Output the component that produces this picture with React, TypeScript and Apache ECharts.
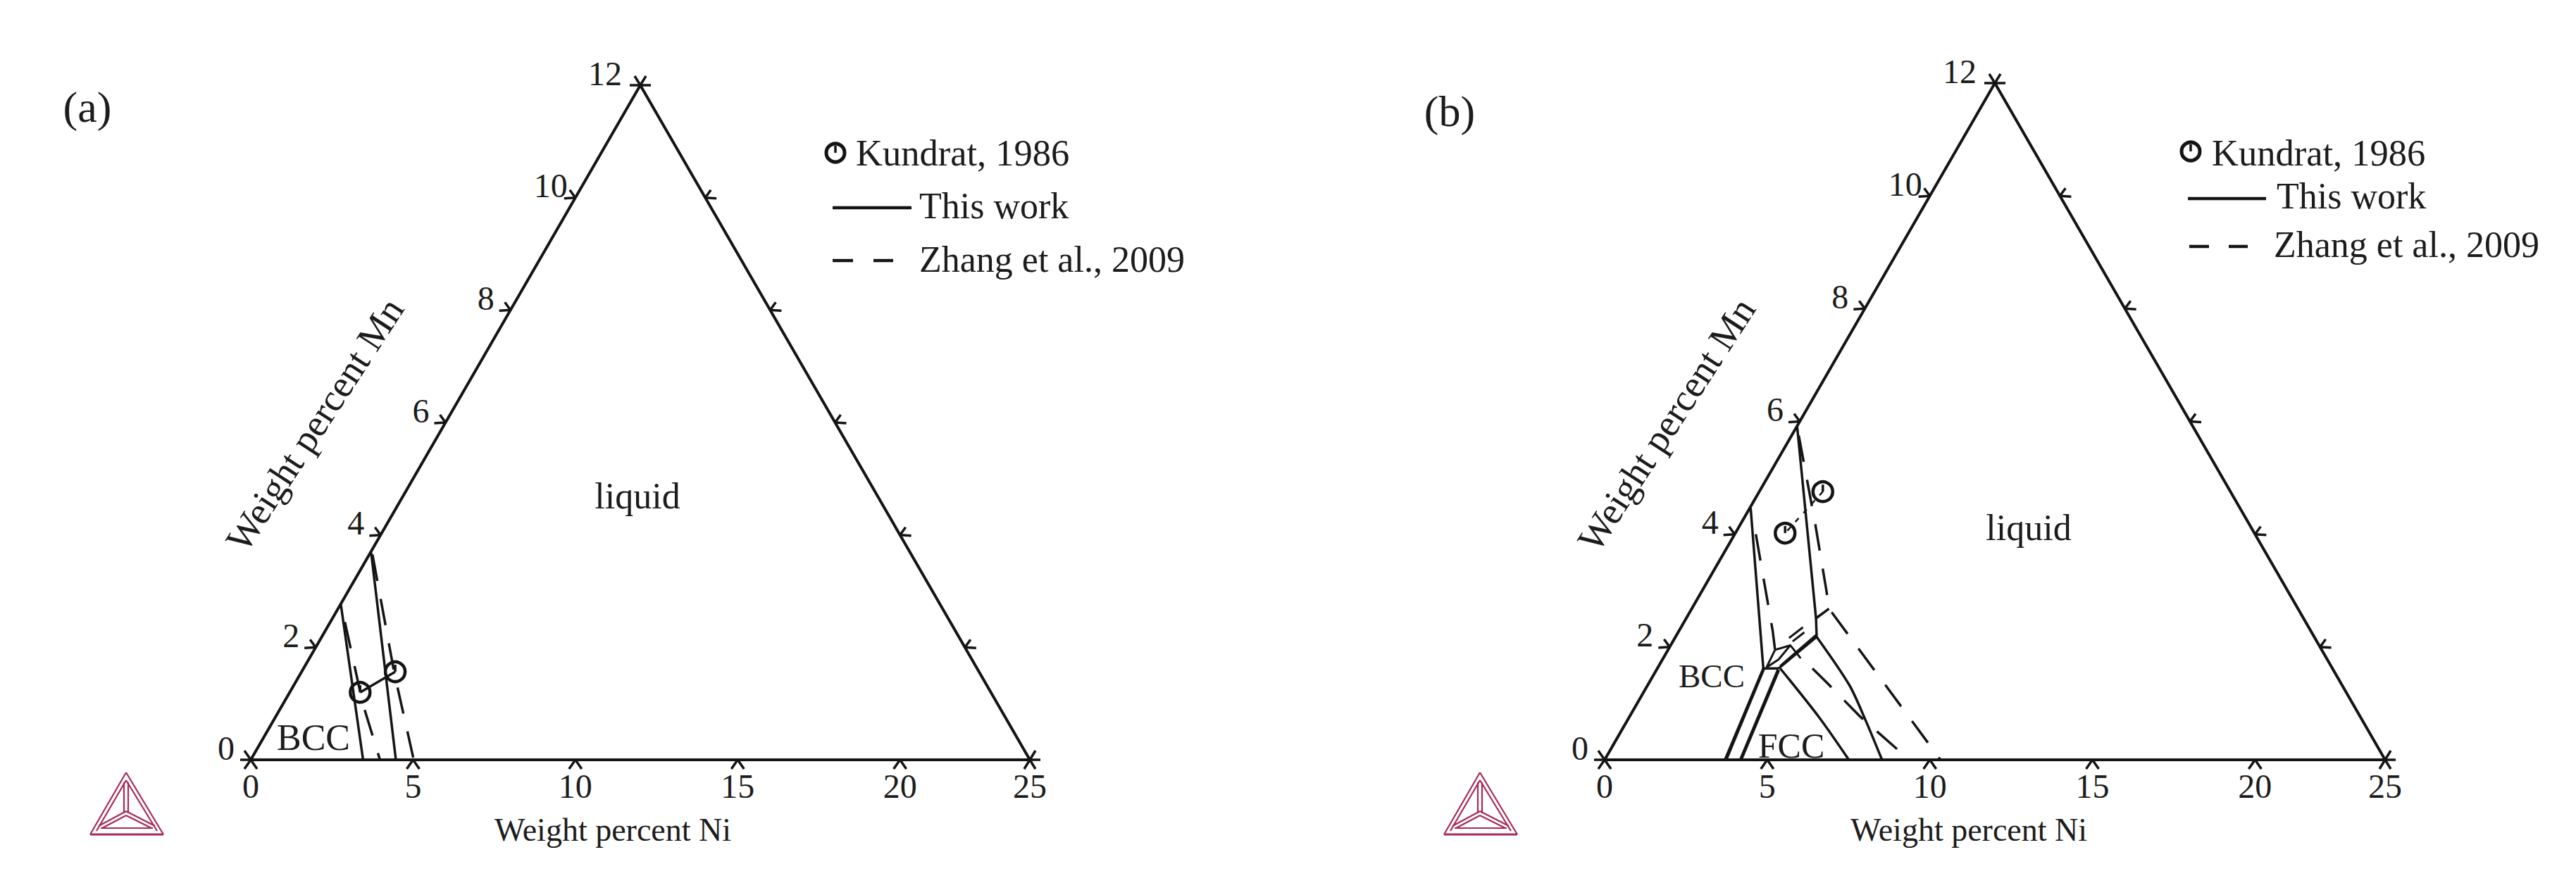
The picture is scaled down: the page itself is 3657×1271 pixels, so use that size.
import React, { useEffect, useRef } from "react";
import * as echarts from "echarts";

// Plot coordinates: x runs in Ni-axis units along the base, y in Mn units (height in the triangle).
const niTickPositions = [0, 5, 10, 15, 20, 24];
const niTickLabels = ["0", "5", "10", "15", "20", "25"];
const mnTicks = [0, 2, 4, 6, 8, 10, 12];
const triangleEdge = [[0, 0], [12, 12], [24, 0], [0, 0]];

const panelASolid = [
  [[2.77, 2.785], [3.46, 0]],
  [[3.71, 3.68], [4.47, 0]],
];
const panelADashed = [
  [[2.9, 2.45], [3.45, 1.0], [3.98, 0]],
  [[3.75, 3.65], [4.42, 1.55], [5.02, 0]],
];
const panelAKundrat = [[3.37, 1.2], [4.45, 1.566]];

const panelBSolid = [
  [[4.49, 4.465], [4.88, 1.62], [5.35, 1.62]],
  [[5.92, 5.91], [6.5, 2.51], [6.52, 2.18], [5.35, 1.62]],
  [[4.88, 1.62], [3.7, 0]],
  [[4.92, 1.64], [3.74, 0]],
  [[5.36, 1.59], [4.2, 0]],
  [[5.33, 1.6], [4.17, 0]],
  [[6.5, 2.51], [6.9, 2.68]],
  [[6.52, 2.22], [5.4, 1.66]],
];
const panelBSolidCurved = [
  [[5.4, 1.62], [6.6, 0.75], [7.51, 0]],
  [[6.52, 2.18], [7.52, 1.33], [8.01, 0.72], [8.53, 0]],
];
const panelBDashed = [
  [[5.97, 5.75], [6.48, 4.17], [6.82, 3.0], [6.9, 2.68], [10.33, 0]],
  [[4.65, 4.0], [5.17, 2.28], [5.24, 1.95]],
  [[6.39, 1.62], [6.83, 1.37], [7.85, 0.77], [9.09, 0.14], [9.4, 0]],
];
const panelBInner = [
  [[5.24, 1.95], [5.71, 2.03], [6.03, 1.8]],
  [[5.24, 1.95], [4.98, 1.64], [5.35, 1.78], [5.71, 2.03]],
  [[5.67, 2.16], [6.1, 2.35]],
  [[5.78, 2.1], [6.14, 2.26]],
];
const panelBKundrat = [[6.71, 4.755], [5.55, 4.02]];

const legendKundrat = "Kundrat, 1986";
const legendThisWork = "This work";
const legendZhang = "Zhang et al., 2009";
const niAxisTitle = "Weight percent Ni";
const mnAxisTitle = "Weight percent Mn";

const INK = "#141414";
const TEXT = "#1c1c1c";
const FONT = '"Liberation Serif", "Times New Roman", serif';
const LOGO = "#a82a55";

const STROKES: Record<string, number[][]> = {
  bottom: [[-9, 13], [9, 13]],
  left: [[-16, 1], [-8, -11]],
  right: [[16, 1], [8, -11]],
  origin: [[-15, 0], [-9, 13], [9, 13], [-9, -13]],
  apex: [[-15, 0], [15, 0], [-8, -13], [8, -13]],
  corner: [[15, 0], [8, -13], [-8, 13], [8, 13]],
};

function tickSeries(i: number, kind: string, data: number[][]) {
  return {
    type: "custom",
    xAxisIndex: i,
    yAxisIndex: i,
    silent: true,
    clip: false,
    data,
    encode: { x: 0, y: 1 },
    renderItem: (_p: any, api: any) => {
      const c = api.coord([api.value(0), api.value(1)]);
      return {
        type: "group",
        children: STROKES[kind].map((s) => ({
          type: "line",
          shape: { x1: c[0], y1: c[1], x2: c[0] + s[0], y2: c[1] + s[1] },
          style: { stroke: INK, lineWidth: 3.5, fill: null },
        })),
      };
    },
  };
}

function mnLabelSeries(i: number) {
  return {
    type: "custom",
    xAxisIndex: i,
    yAxisIndex: i,
    silent: true,
    clip: false,
    data: mnTicks.map((m) => [m, m]),
    encode: { x: 0, y: 1 },
    renderItem: (_p: any, api: any) => {
      const m = api.value(1);
      const c = api.coord([api.value(0), m]);
      return {
        type: "text",
        x: c[0] + (m === 12 ? -50 : -35),
        y: c[1] - 17,
        style: {
          text: String(m),
          fill: TEXT,
          fontSize: 48,
          fontFamily: FONT,
          align: "center",
          verticalAlign: "middle",
        },
      };
    },
  };
}

function kundratSeries(i: number, data: number[][]) {
  return {
    name: legendKundrat,
    type: "custom",
    xAxisIndex: i,
    yAxisIndex: i,
    silent: true,
    data,
    encode: { x: 0, y: 1 },
    z: 5,
    renderItem: (_p: any, api: any) => {
      const c = api.coord([api.value(0), api.value(1)]);
      return {
        type: "group",
        children: [
          {
            type: "circle",
            shape: { cx: c[0], cy: c[1], r: 14 },
            style: { stroke: INK, lineWidth: 4.5, fill: "none" },
          },
          {
            type: "line",
            shape: { x1: c[0], y1: c[1], x2: c[0], y2: c[1] - 10 },
            style: { stroke: INK, lineWidth: 3.5, fill: null },
          },
        ],
      };
    },
  };
}

function lineSeries(i: number, name: string, data: number[][], width: number, type: any, smooth: any = false) {
  return {
    name,
    type: "line",
    xAxisIndex: i,
    yAxisIndex: i,
    data,
    silent: true,
    symbol: "none",
    clip: false,
    smooth,
    lineStyle: { color: INK, width, type, cap: "butt" },
  };
}

function panelSeries(
  i: number,
  solid: number[][][],
  curved: number[][][],
  dashed: number[][][],
  inner: number[][][],
  kundrat: number[][],
  connector: any,
  connectorWidth: number
) {
  const rightEdge = mnTicks.filter((m) => m > 0 && m < 12).map((m) => [24 - m, m]);
  const leftEdge = mnTicks.filter((m) => m > 0 && m < 12).map((m) => [m, m]);
  const base = niTickPositions.filter((x) => x > 0 && x < 24).map((x) => [x, 0]);
  return [
    lineSeries(i, "triangle", triangleEdge, 4, "solid"),
    ...solid.map((d) => lineSeries(i, legendThisWork, d, 3.5, "solid")),
    ...curved.map((d) => lineSeries(i, legendThisWork, d, 3.5, "solid", 0.3)),
    ...dashed.map((d) => lineSeries(i, legendZhang, d, 3.5, [38, 26])),
    ...inner.map((d) => lineSeries(i, legendZhang, d, 3, "solid")),
    lineSeries(i, legendKundrat, kundrat, connectorWidth, connector),
    kundratSeries(i, kundrat),
    tickSeries(i, "bottom", base),
    tickSeries(i, "left", leftEdge),
    tickSeries(i, "right", rightEdge),
    tickSeries(i, "origin", [[0, 0]]),
    tickSeries(i, "apex", [[12, 12]]),
    tickSeries(i, "corner", [[24, 0]]),
    mnLabelSeries(i),
  ];
}

function txt(x: number, y: number, text: string, fontSize: number, align = "left", rotation = 0) {
  return {
    type: "text",
    x,
    y,
    rotation,
    silent: true,
    style: { text, fill: TEXT, fontSize, fontFamily: FONT, align, verticalAlign: "middle" },
  };
}

function seg(x1: number, y1: number, x2: number, y2: number, stroke = INK, lineWidth = 4.5) {
  return {
    type: "line",
    silent: true,
    shape: { x1, y1, x2, y2 },
    style: { stroke, lineWidth },
  };
}

function logo(dx: number) {
  const ax = 179 + dx, ay = 1097, lx = 128 + dx, rx = 232 + dx, by = 1185, cy = 1155;
  const w = 2.2;
  const out: any[] = [
    seg(ax, ay, lx, by, LOGO, w),
    seg(ax, ay, rx, by, LOGO, w),
    seg(lx, by, rx, by, LOGO, 3),
    seg(ax, ay + 11, lx + 9, by - 5, LOGO, w),
    seg(ax, ay + 11, rx - 9, by - 5, LOGO, w),
    seg(lx + 15, by - 9, rx - 15, by - 9, LOGO, w),
    seg(ax - 3, ay + 14, ax - 3, cy, LOGO, w),
    seg(ax + 3, ay + 14, ax + 3, cy, LOGO, w),
    seg(ax, cy - 3, lx + 12, by - 12, LOGO, w),
    seg(ax, cy + 3, lx + 17, by - 9, LOGO, w),
    seg(ax, cy - 3, rx - 12, by - 12, LOGO, w),
    seg(ax, cy + 3, rx - 17, by - 9, LOGO, w),
  ];
  return out;
}

function kundratKey(x: number, y: number) {
  return [
    {
      type: "circle",
      silent: true,
      shape: { cx: x, cy: y, r: 13 },
      style: { stroke: INK, lineWidth: 5, fill: "none" },
    },
    seg(x, y, x, y - 10, INK, 3.5),
  ];
}

const MN_ANGLE = (57 * Math.PI) / 180;

const graphics: any[] = [
  txt(124, 152, "(a)", 62, "center"),
  txt(2058, 158, "(b)", 62, "center"),
  ...logo(0),
  ...logo(1922),
  txt(447, 603, mnAxisTitle, 54, "center", MN_ANGLE),
  txt(2366, 603, mnAxisTitle, 54, "center", MN_ANGLE),
  txt(905, 704, "liquid", 52, "center"),
  txt(2880, 749, "liquid", 52, "center"),
  txt(445, 1047, "BCC", 52, "center"),
  txt(2430, 960, "BCC", 47, "center"),
  txt(2543, 1059, "FCC", 50, "center"),
  ...kundratKey(1186, 217),
  txt(1215, 217, legendKundrat, 52.5),
  seg(1182, 295, 1294, 295),
  txt(1305, 292, legendThisWork, 52),
  seg(1182, 370, 1211, 370),
  seg(1240, 370, 1268, 370),
  txt(1305, 368, legendZhang, 52),
  ...kundratKey(3110, 215),
  txt(3140, 217, legendKundrat, 52.5),
  seg(3106, 282, 3217, 282),
  txt(3232, 278, legendThisWork, 52),
  seg(3108, 350, 3136, 350),
  seg(3164, 350, 3191, 350),
  txt(3228, 347, legendZhang, 52),
];

function xAxis(i: number, shift: number) {
  return {
    type: "value",
    gridIndex: i,
    min: 0,
    max: 24,
    interval: 5,
    name: niAxisTitle,
    nameLocation: "middle",
    nameGap: 76,
    nameTextStyle: {
      color: TEXT,
      fontSize: 46,
      fontFamily: FONT,
      padding: [0, shift, 0, 0],
    },
    axisLine: { show: true, onZero: false, lineStyle: { color: INK, width: 4 } },
    axisTick: { show: false },
    splitLine: { show: false },
    axisLabel: {
      show: true,
      showMinLabel: true,
      showMaxLabel: true,
      hideOverlap: false,
      margin: 13,
      color: TEXT,
      fontSize: 48,
      fontFamily: FONT,
      formatter: (v: number) => niTickLabels[niTickPositions.indexOf(v)] ?? "",
    },
  };
}

function yAxis(i: number) {
  return { type: "value", gridIndex: i, min: 0, max: 12, interval: 2, show: false, splitLine: { show: false } };
}

const option: any = {
  animation: false,
  backgroundColor: "#ffffff",
  grid: [
    { left: 356, top: 121, width: 1106, height: 958, containLabel: false },
    { left: 2278, top: 118, width: 1108, height: 961, containLabel: false },
  ],
  xAxis: [xAxis(0, 78), xAxis(1, 74)],
  yAxis: [yAxis(0), yAxis(1)],
  series: [
    ...panelSeries(0, panelASolid, [], panelADashed, [], panelAKundrat, "solid", 3.5),
    ...panelSeries(1, panelBSolid, panelBSolidCurved, panelBDashed, panelBInner, panelBKundrat, [7, 10], 2.5),
  ],
  graphic: { elements: graphics },
};

export default function App() {
  const ref = useRef<HTMLDivElement>(null);
  useEffect(() => {
    const chart = echarts.init(ref.current!, undefined, { renderer: "svg" });
    chart.setOption(option);
    return () => chart.dispose();
  }, []);
  return (
    <div
      ref={ref}
      style={{ position: "absolute", left: 0, top: 0, width: 3657, height: 1271 }}
    />
  );
}
